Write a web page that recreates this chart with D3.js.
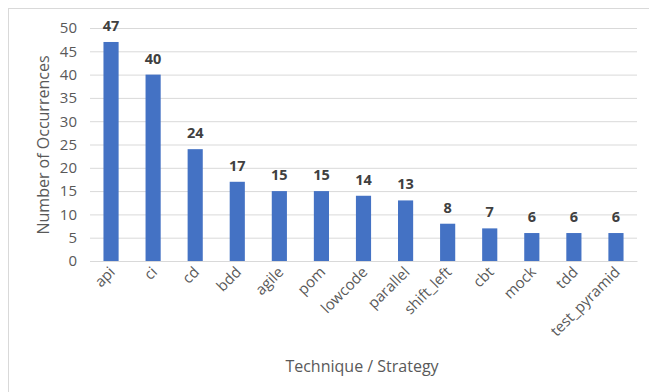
<!DOCTYPE html>
<html><head><meta charset="utf-8">
<script src="https://cdn.jsdelivr.net/npm/d3@7/dist/d3.min.js"></script>
<style>body{margin:0;background:#fff}svg{display:block}text{font-family:"Open Sans",sans-serif}</style>
</head><body>
<svg id="c" width="649" height="392"></svg>
<script>
const categories = ["api","ci","cd","bdd","agile","pom","lowcode","parallel","shift_left","cbt","mock","tdd","test_pyramid"];
const values = [47,40,24,17,15,15,14,13,8,7,6,6,6];
const yTicks = [0,5,10,15,20,25,30,35,40,45,50];

const svg = d3.select("#c");
svg.append("rect").attr("x",8.5).attr("y",8.5).attr("width",700).attr("height",500)
  .attr("fill","none").attr("stroke","#d9d9d9");

const L=90, R=637, T=28, B=261;
const x = d3.scaleBand().domain(categories).range([L,R]).paddingInner(0.64).paddingOuter(0.32);
const y = d3.scaleLinear().domain([0,50]).range([B,T]);

const gy = svg.append("g").attr("transform",`translate(${L},0)`)
  .call(d3.axisLeft(y).tickValues(yTicks).tickSize(-(R-L)).tickPadding(13));
gy.select(".domain").remove();
gy.selectAll("line").attr("stroke","#d9d9d9");
gy.selectAll("text").attr("fill","#595959").style("font-size","15px");

svg.selectAll(".bar").data(values).join("rect")
  .attr("x",(d,i)=>x(categories[i])).attr("width",x.bandwidth())
  .attr("y",d=>y(d)).attr("height",d=>B-y(d)).attr("fill","#4472C4");

svg.selectAll(".lbl").data(values).join("text")
  .attr("x",(d,i)=>x(categories[i])+x.bandwidth()/2).attr("y",d=>y(d)-11)
  .attr("text-anchor","middle").attr("fill","#404040")
  .style("font-size","14.5px").style("font-weight","bold").text(d=>d);

const gx = svg.append("g").attr("transform",`translate(0,${B})`)
  .call(d3.axisBottom(x).tickSize(0).tickPadding(0));
gx.select(".domain").attr("stroke","#d9d9d9");
gx.selectAll("text").attr("fill","#595959").style("font-size","15px")
  .attr("text-anchor","end").attr("dy",0)
  .attr("transform","translate(5,12) rotate(-45)");

svg.append("text").attr("transform",`translate(49,145) rotate(-90)`)
  .attr("text-anchor","middle").attr("fill","#595959").style("font-size","16px")
  .text("Number of Occurrences");
svg.append("text").attr("x",362).attr("y",372)
  .attr("text-anchor","middle").attr("fill","#595959").style("font-size","16px")
  .text("Technique / Strategy");
</script>
</body></html>
